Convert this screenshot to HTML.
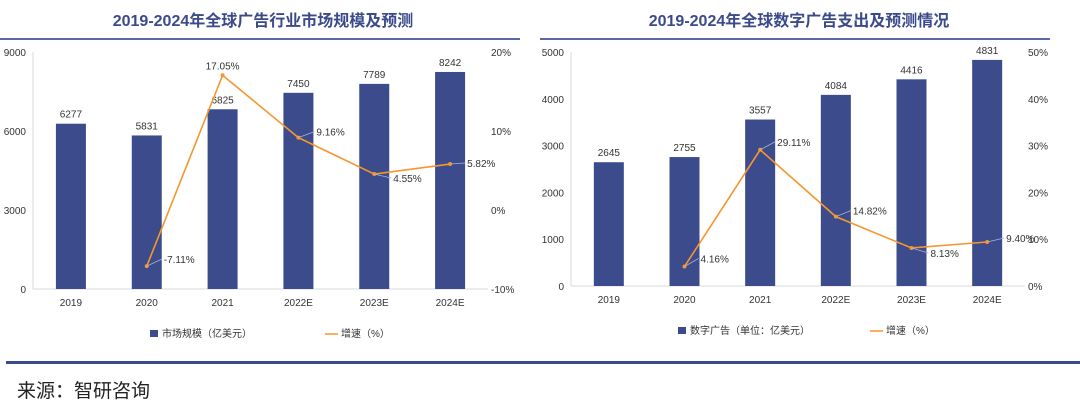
<!DOCTYPE html>
<html><head><meta charset="utf-8">
<style>
body{margin:0;width:1080px;height:408px;background:#fff;overflow:hidden;font-family:"Liberation Sans","Noto Sans CJK SC",sans-serif;}
svg{position:absolute;left:0;top:0}
</style></head><body>
<svg id="s" width="1080" height="408">
<text x="263" y="26" text-anchor="middle" font-size="16" font-weight="bold" fill="#3a4a8a">2019-2024年全球广告行业市场规模及预测</text>
<rect x="0" y="38" width="520" height="2" fill="#5a68a8"/>
<text x="799" y="26" text-anchor="middle" font-size="16" font-weight="bold" fill="#3a4a8a">2019-2024年全球数字广告支出及预测情况</text>
<rect x="540" y="38" width="510" height="2" fill="#5a68a8"/>
<rect x="6" y="361" width="1074" height="3" fill="#3a4a8a"/>
<text x="17" y="397" font-size="19" fill="#222">来源：智研咨询</text>
</svg>
<script>
const cats1=["2019","2020","2021","2022E","2023E","2024E"];
const bars1=[6277,5831,6825,7450,7789,8242];
const rate1=[null,-7.11,17.05,9.16,4.55,5.82];
const leftTicks1=[0,3000,6000,9000];
const rightTicks1=[-10,0,10,20];
const cats2=["2019","2020","2021","2022E","2023E","2024E"];
const bars2=[2645,2755,3557,4084,4416,4831];
const rate2=[null,4.16,29.11,14.82,8.13,9.40];
const leftTicks2=[0,1000,2000,3000,4000,5000];
const rightTicks2=[0,10,20,30,40,50];

const svg=document.getElementById('s');
const NS='http://www.w3.org/2000/svg';
function el(tag,attrs,text){const e=document.createElementNS(NS,tag);for(const k in attrs)e.setAttribute(k,attrs[k]);if(text!=null)e.textContent=text;svg.appendChild(e);return e;}

function chart(cfg){
  const {x0,x1,yTop,yBot,cats,bars,rate,lt,rt,lMax,rMin,rMax,labOff,legBar,legLine,legText,pre}=cfg;
  const band=(x1-x0)/cats.length;
  const xc=i=>x0+band*(i+0.5);
  const yL=v=>yBot-(v/lMax)*(yBot-yTop);
  const yR=v=>yBot-((v-rMin)/(rMax-rMin))*(yBot-yTop);
  let a=el('line',{x1:x0,y1:yTop,x2:x0,y2:yBot,stroke:'#d9d9d9'});
  
  a=el('line',{x1:x0,y1:yBot,x2:x1,y2:yBot,stroke:'#d9d9d9'});
  
  lt.forEach(v=>{const t=el('text',{x:x0-7,y:yL(v)+4,'text-anchor':'end','font-size':10,fill:'#333'},v);
    });
  rt.forEach(v=>{const t=el('text',{x:x1+3,y:yR(v)+4,'font-size':10,fill:'#333'},v+'%');
    });
  cats.forEach((c,i)=>{
    const b=el('rect',{x:xc(i)-15,y:yL(bars[i]),width:30,height:yBot-yL(bars[i]),fill:'#3c4b8c'});
    
    const t=el('text',{x:xc(i),y:yL(bars[i])-6,'text-anchor':'middle','font-size':10,fill:'#333'},bars[i]);
    
    const xl=el('text',{x:xc(i),y:yBot+17,'text-anchor':'middle','font-size':10,fill:'#333'},c);
    
  });
  const pts=[];rate.forEach((r,i)=>{if(r!=null)pts.push([xc(i),yR(r),r,i]);});
  const pl=el('polyline',{points:pts.map(p=>p[0]+','+p[1]).join(' '),fill:'none',stroke:'#f5962e','stroke-width':1.6});
  
  pts.forEach(p=>{
    const c=el('circle',{cx:p[0],cy:p[1],r:2,fill:'#f5962e'});
    
    const o=labOff[p[3]];
    if(o[2]){const ln=el('line',{x1:p[0],y1:p[1],x2:p[0]+o[0]-2,y2:p[1]+o[1]-4,stroke:'#a8b4d0','stroke-width':0.8});
      }
    const t=el('text',{x:p[0]+o[0],y:p[1]+o[1],'text-anchor':o[2]?'start':'middle','font-size':10,fill:'#333'},p[2].toFixed(2)+'%');
    
  });
  let r=el('rect',{x:legBar,y:cfg.legY-4,width:8,height:7,fill:'#3c4b8c'});
  
  let t=el('text',{x:legBar+12,y:cfg.legY+3,'font-size':10,fill:'#333'},legText);
  
  r=el('line',{x1:legLine,y1:cfg.legY,x2:legLine+13,y2:cfg.legY,stroke:'#f5962e','stroke-width':1.5});
  
  t=el('text',{x:legLine+16,y:cfg.legY+3,'font-size':10,fill:'#333'},'增速（%）');
  
}
chart({pre:'left',x0:33,x1:488,yTop:52,yBot:289,cats:cats1,bars:bars1,rate:rate1,lt:leftTicks1,rt:rightTicks1,lMax:9000,rMin:-10,rMax:20,
  labOff:[null,[17,-3,1],[0,-6,0],[18,-2,1],[19,8,1],[17,3,1]],legBar:150,legLine:325,legY:334,legText:'市场规模（亿美元）'});
chart({pre:'right',x0:571,x1:1025,yTop:52,yBot:286,cats:cats2,bars:bars2,rate:rate2,lt:leftTicks2,rt:rightTicks2,lMax:5000,rMin:0,rMax:50,
  labOff:[null,[16,-4,1],[17,-4,1],[17,-2,1],[19,9,1],[19,0,1]],legBar:678,legLine:870,legY:331,legText:'数字广告（单位：亿美元）'});
</script>
</body></html>
